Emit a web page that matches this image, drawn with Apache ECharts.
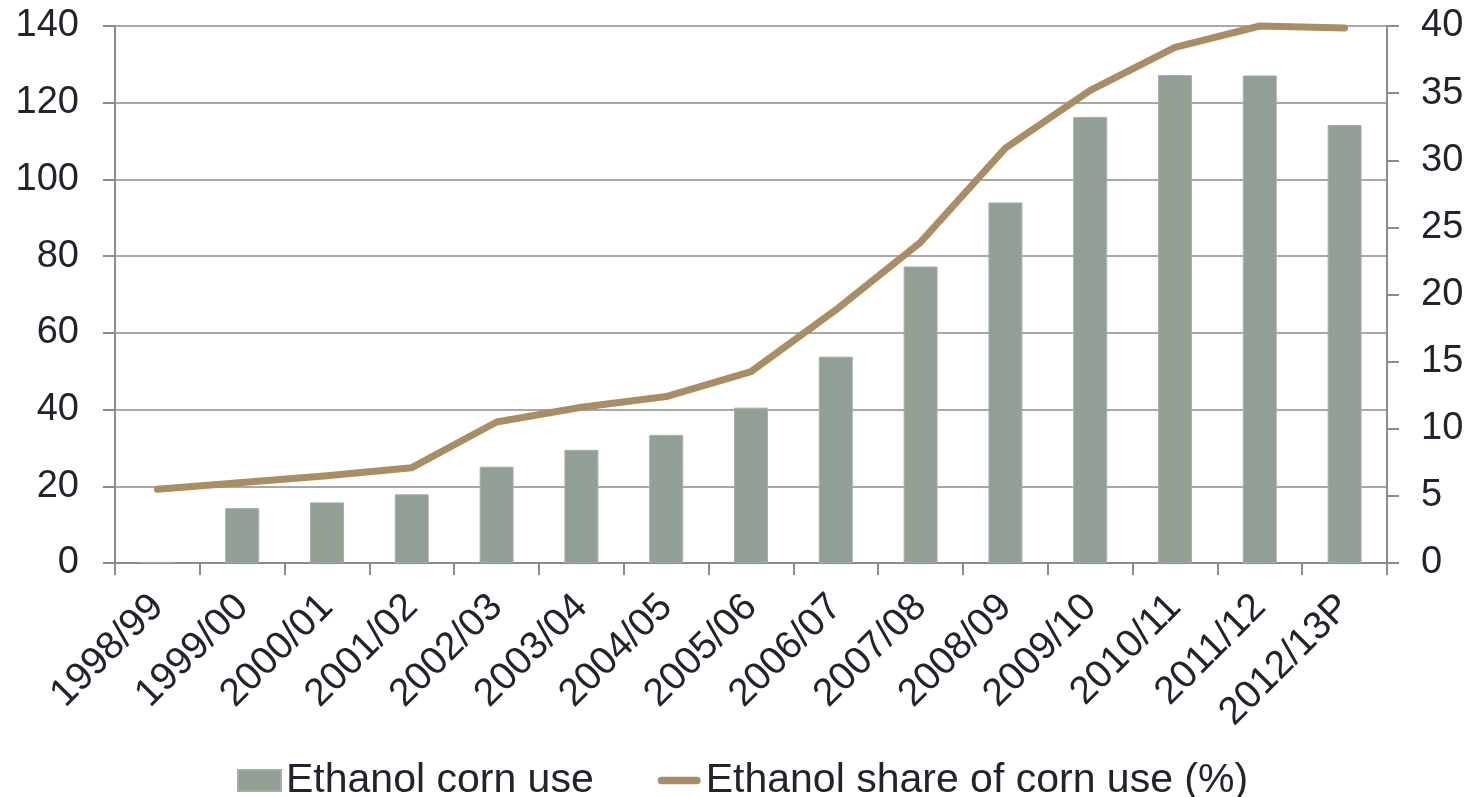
<!DOCTYPE html>
<html>
<head>
<meta charset="utf-8">
<title>Ethanol corn use</title>
<script src="https://cdn.jsdelivr.net/npm/echarts@6/dist/echarts.min.js"></script>
<style>
  html, body { margin: 0; padding: 0; background: #ffffff; }
  #chart { width: 1473px; height: 797px; }
</style>
</head>
<body>
<div id="chart"></div>
<script>
// Marketing years
const years = ['1998/99', '1999/00', '2000/01', '2001/02', '2002/03', '2003/04', '2004/05',
  '2005/06', '2006/07', '2007/08', '2008/09', '2009/10', '2010/11', '2011/12', '2012/13P'];

// Corn used for ethanol (left axis)
const cornUse = [0.3, 14.3, 15.8, 17.9, 25.1, 29.5, 33.4, 40.5, 53.8, 77.3, 94.0, 116.3, 127.2, 127.1, 114.2];

// Ethanol share of total corn use, % (right axis)
const ethanolShare = [5.5, 6.0, 6.5, 7.1, 10.5, 11.6, 12.4, 14.25, 18.85, 23.9, 30.9, 35.2, 38.4, 40.0, 39.85];

// Axis tick labels
const leftTicks = [0, 20, 40, 60, 80, 100, 120, 140];
const rightTicks = [0, 5, 10, 15, 20, 25, 30, 35, 40];

const seriesNames = ['Ethanol corn use', 'Ethanol share of corn use (%)'];

const textColor = '#23232d';
const axisColor = '#8c8c8c';
const gridColor = '#a8a8a8';
const barColor = '#929f95';
const lineColor = '#a98d65';
const font = 'Liberation Sans, Arial, sans-serif';

// Rounded stroke used as the legend marker of the line series
const lineIcon = 'path://M3.5,0 L36.5,0 A3.5,3.5 0 0 1 36.5,7 L3.5,7 A3.5,3.5 0 0 1 3.5,0 Z';

const chart = echarts.init(document.getElementById('chart'), null, { renderer: 'canvas' });

chart.setOption({
  animation: false,
  backgroundColor: '#ffffff',
  grid: { left: 115, right: 86, top: 26, bottom: 234, containLabel: false },
  legend: {
    left: 232,
    top: 755,
    itemGap: 64,
    itemWidth: 43,
    itemHeight: 21,
    textStyle: { color: textColor, fontSize: 41, fontFamily: font },
    data: [
      { name: seriesNames[0], icon: 'rect' },
      { name: seriesNames[1], icon: lineIcon }
    ]
  },
  xAxis: {
    type: 'category',
    data: years,
    boundaryGap: true,
    axisLine: { lineStyle: { color: axisColor, width: 2 } },
    axisTick: { show: true, length: 12, alignWithLabel: false, lineStyle: { color: axisColor, width: 2 } },
    axisLabel: {
      interval: 0,
      rotate: 45,
      margin: 38,
      color: textColor,
      fontSize: 39,
      fontFamily: font
    }
  },
  yAxis: [
    {
      type: 'value',
      min: leftTicks[0],
      max: leftTicks[leftTicks.length - 1],
      interval: leftTicks[1] - leftTicks[0],
      axisLine: { show: true, lineStyle: { color: axisColor, width: 2 } },
      axisTick: { show: true, length: 12, lineStyle: { color: axisColor, width: 2 } },
      splitLine: { show: true, lineStyle: { color: gridColor, width: 2 } },
      axisLabel: { margin: 36, color: textColor, fontSize: 38, fontFamily: font }
    },
    {
      type: 'value',
      position: 'right',
      min: rightTicks[0],
      max: rightTicks[rightTicks.length - 1],
      interval: rightTicks[1] - rightTicks[0],
      axisLine: { show: true, lineStyle: { color: axisColor, width: 2 } },
      axisTick: { show: true, length: 12, lineStyle: { color: axisColor, width: 2 } },
      splitLine: { show: false },
      axisLabel: { margin: 34, color: textColor, fontSize: 38, fontFamily: font }
    }
  ],
  series: [
    {
      name: seriesNames[0],
      type: 'bar',
      yAxisIndex: 0,
      data: cornUse,
      barWidth: '40%',
      itemStyle: { color: barColor, borderColor: '#a3aea6', borderWidth: 1 }
    },
    {
      name: seriesNames[1],
      type: 'line',
      yAxisIndex: 1,
      data: ethanolShare,
      symbol: 'none',
      showSymbol: false,
      clip: false,
      lineStyle: { color: lineColor, width: 7, cap: 'round', join: 'round' },
      itemStyle: { color: lineColor }
    }
  ]
});
</script>
</body>
</html>
